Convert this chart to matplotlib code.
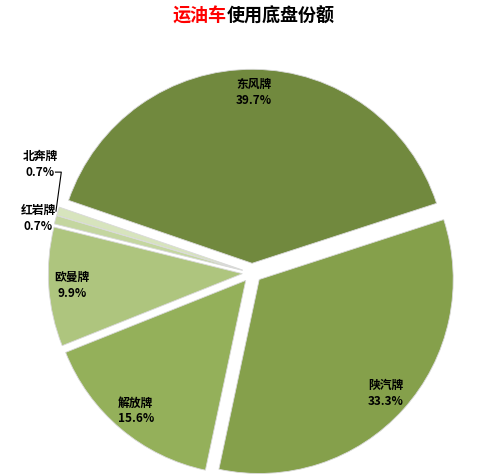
import numpy as np
import matplotlib.pyplot as plt

plt.rcParams['font.family'] = ['Noto Sans CJK SC', 'DejaVu Sans']

# 各品牌底盘份额（顺时针，从陕汽开始）
brands = ['陕汽牌', '解放牌', '欧曼牌', '红岩牌', '北奔牌', '东风牌']
shares = [33.3, 15.6, 9.9, 0.7, 0.7, 39.7]
colors = ['#85A04B', '#94B05A', '#AEC57E', '#C4D6A0', '#D7E4BD', '#71893E']

W, H = 483, 476
cx, cy, r = 252, 273, 194  # 饼图中心和半径（像素）

fig = plt.figure(figsize=(W / 100, H / 100), dpi=100)
ax = fig.add_axes([0, 0, 1, 1])

explode = [0.05] * len(shares)
wedges, texts, autotexts = ax.pie(
    shares, colors=colors, explode=explode, startangle=18, counterclock=False,
    radius=1.0, autopct='%1.1f%%', pctdistance=0.88,
    wedgeprops=dict(edgecolor='#d9d9d9', linewidth=0.6),
    textprops=dict(fontsize=8.5, color='black'))

# pie 会自动调整范围，所以之后再设
ax.set_xlim(-cx / r, (W - cx) / r)
ax.set_ylim(-(H - cy) / r, cy / r)
ax.axis('off')

for t, name, s in zip(autotexts, brands, shares):
    t.set_text(name + '\n' + t.get_text())
    t.set_linespacing(1.3)
    t.set_fontweight('bold')
    if s < 2:
        t.set_visible(False)

# 小份额的标签放到外面
small_pos = {'北奔牌': (-1.093, 0.56), '红岩牌': (-1.103, 0.28)}
for w, name, s in zip(wedges, brands, shares):
    if s >= 2:
        continue
    ang = np.deg2rad((w.theta1 + w.theta2) / 2)
    x0, y0 = w.center
    edge = (x0 + np.cos(ang), y0 + np.sin(ang))
    tx, ty = small_pos[name]
    ax.text(tx, ty, f'{name}\n{s:.1f}%', ha='center', va='center',
            fontsize=8.5, fontweight='bold', linespacing=1.3)
    if name == '北奔牌':
        ax.plot([tx + 0.08, tx + 0.11, edge[0] - 0.01],
                [ty - 0.04, ty - 0.04, edge[1]], color='black', lw=0.8)

fig.text(227 / W, 1 - 16 / H, '运油车', color='red', fontsize=13,
         fontweight='bold', ha='right', va='center')
fig.text(227 / W, 1 - 16 / H, '使用底盘份额', color='black', fontsize=13,
         fontweight='bold', ha='left', va='center')

fig.savefig('out.png', dpi=100)
